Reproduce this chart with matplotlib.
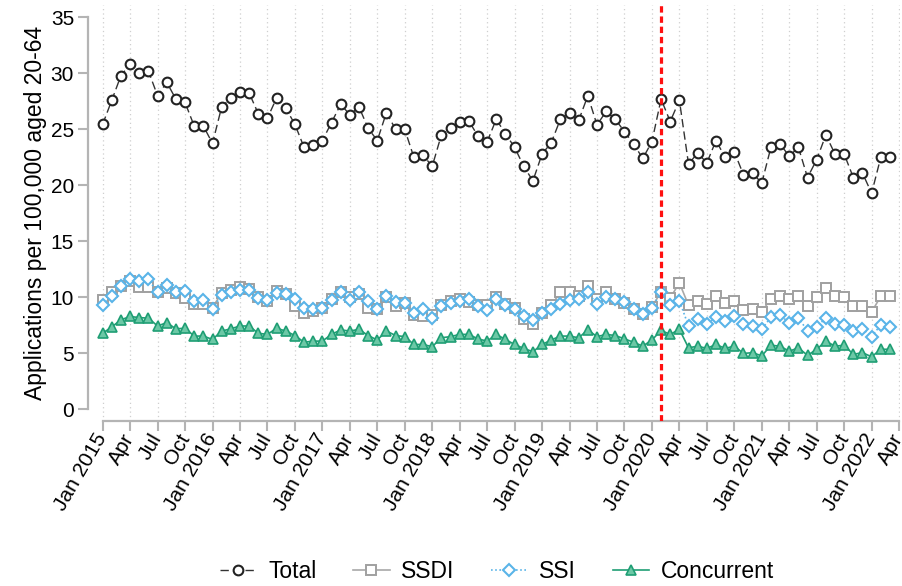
import numpy as np
import matplotlib
matplotlib.use("Agg")
import matplotlib.pyplot as plt

# monthly applications per 100,000 aged 20-64, Jan 2015 - Mar 2022
total = [25.45, 27.6, 29.8, 30.8, 30.0, 30.2, 28.0, 29.2, 27.7, 27.4, 25.3, 25.3,
         23.75, 27.0, 27.8, 28.3, 28.25, 26.4, 26.0, 27.8, 26.9, 25.45, 23.4, 23.6,
         24.0, 25.6, 27.25, 26.3, 27.0, 25.1, 24.0, 26.5, 25.0, 25.0, 22.5, 22.7,
         21.7, 24.5, 25.1, 25.65, 25.75, 24.4, 23.9, 25.9, 24.6, 23.4, 21.7, 20.4,
         22.8, 23.8, 25.9, 26.5, 25.8, 28.0, 25.4, 26.6, 25.9, 24.8, 23.7, 22.4,
         23.9, 27.7, 25.7, 27.6, 21.9, 22.9, 22.0, 24.0, 22.5, 23.0, 20.95, 21.1,
         20.2, 23.4, 23.7, 22.6, 23.4, 20.7, 22.3, 24.5, 22.8, 22.8, 20.7, 21.1,
         19.3, 22.5, 22.5]
ssdi = [9.8, 10.5, 11.0, 11.5, 10.9, 10.95, 10.45, 10.8, 10.4, 9.95, 9.4, 9.4,
        9.1, 10.4, 10.7, 10.9, 10.75, 10.05, 9.7, 10.6, 10.3, 9.25, 8.65, 8.8,
        9.1, 9.85, 10.45, 10.0, 10.3, 9.1, 9.0, 10.0, 9.2, 9.5, 8.4, 8.35,
        8.4, 9.3, 9.7, 9.9, 9.6, 9.3, 9.3, 10.0, 9.4, 9.1, 8.05, 7.6,
        8.65, 9.3, 10.45, 10.5, 10.15, 11.0, 9.85, 10.45, 9.85, 9.5, 8.95, 8.5,
        9.15, 10.5, 9.95, 11.3, 9.3, 9.7, 9.4, 10.15, 9.5, 9.65, 8.9, 9.0,
        8.7, 9.9, 10.15, 9.9, 10.1, 9.2, 10.0, 10.8, 10.1, 10.0, 9.2, 9.2,
        8.7, 10.1, 10.15]
ssi = [9.35, 10.15, 11.0, 11.6, 11.45, 11.6, 10.45, 11.15, 10.5, 10.6, 9.65, 9.8,
       8.95, 10.2, 10.5, 10.65, 10.65, 9.95, 9.8, 10.4, 10.3, 9.9, 9.1, 9.0,
       9.1, 9.8, 10.45, 9.8, 10.45, 9.7, 9.0, 10.15, 9.6, 9.5, 8.65, 8.95,
       8.2, 9.2, 9.5, 9.7, 9.9, 9.2, 8.85, 9.85, 9.3, 8.95, 8.3, 8.0,
       8.65, 8.95, 9.4, 9.75, 9.85, 10.45, 9.4, 10.0, 9.85, 9.55, 8.95, 8.5,
       9.05, 10.5, 9.3, 9.7, 7.45, 8.1, 7.6, 8.25, 7.9, 8.3, 7.6, 7.45,
       7.15, 8.25, 8.4, 7.75, 8.2, 7.0, 7.4, 8.15, 7.6, 7.55, 7.0, 7.2,
       6.5, 7.55, 7.4]
concurrent = [6.8, 7.37, 8.0, 8.3, 8.2, 8.15, 7.45, 7.75, 7.2, 7.25, 6.55, 6.55,
              6.25, 7.0, 7.2, 7.45, 7.45, 6.8, 6.7, 7.25, 7.0, 6.6, 6.0, 6.1,
              6.1, 6.7, 7.1, 7.0, 7.15, 6.6, 6.2, 7.0, 6.6, 6.5, 5.8, 5.8,
              5.6, 6.4, 6.5, 6.7, 6.7, 6.3, 6.1, 6.7, 6.25, 5.8, 5.45, 5.15,
              5.8, 6.2, 6.55, 6.55, 6.4, 7.1, 6.5, 6.7, 6.6, 6.3, 6.0, 5.65,
              6.2, 7.05, 6.7, 7.15, 5.5, 5.65, 5.45, 5.8, 5.45, 5.65, 5.0, 5.07,
              4.78, 5.73, 5.65, 5.2, 5.5, 4.83, 5.37, 6.1, 5.65, 5.73, 4.92, 5.07,
              4.7, 5.37, 5.37]

years = [2015, 2016, 2017, 2018, 2019, 2020, 2021, 2022]
quarter_months = ["Jan", "Apr", "Jul", "Oct"]
tick_labels = []
for yr in years:
    for m in quarter_months:
        tick_labels.append(f"{m} {yr}" if m == "Jan" else m)
tick_labels = tick_labels[:30]  # Jan 2015 ... Apr 2022
covid_month = 61  # Feb 2020

plt.rcParams['font.family'] = ['Liberation Sans', 'DejaVu Sans']

fig = plt.figure(figsize=(9.02, 5.86), dpi=100)
ax = fig.add_axes([88 / 902, 1 - 421 / 586, 812 / 902, 416 / 586])

x = np.arange(len(total))
axis_grey = "#b4b4b4"

for t in range(0, 88, 3):
    ax.axvline(t, color="#cfcfcf", lw=0.9, ls=(0, (1, 2.5)), zorder=0)

ax.plot(x, total, color="#333333", lw=1.0, ls=(0, (6, 3)), marker="o", ms=7,
        mfc="white", mec="#222222", mew=1.5, label="Total", zorder=5)
ax.plot(x, ssdi, color="#a8a8a8", lw=1.2, marker="s", ms=6.6,
        mfc="white", mec="#a0a0a0", mew=1.4, label="SSDI", zorder=3)
ax.plot(x, ssi, color="#5ab4e8", lw=1.2, ls=(0, (1, 1.5)), marker="D", ms=6.4,
        mfc="white", mec="#5ab4e8", mew=1.5, label="SSI", zorder=4)
ax.plot(x, concurrent, color="#1f9e74", lw=1.2, marker="^", ms=7,
        mfc="#6cc8a6", mec="#1f9e74", mew=1.2, label="Concurrent", zorder=4)

ax.axvline(covid_month, color="#ff1010", lw=2.3, ls=(0, (2, 1.2)), zorder=6)

ax.set_xlim(-1.6, 87.1)
ax.set_ylim(-1.03, 36.1)

ax.set_yticks(range(0, 36, 5))
ax.set_xticks(range(0, 88, 3))
ax.set_xticklabels(tick_labels, rotation=60, ha="right", va="center",
                   rotation_mode="anchor", fontsize=15)
ax.tick_params(axis="y", labelsize=15, length=7, width=1.5, color=axis_grey, pad=3)
ax.tick_params(axis="x", length=7, width=1.5, color=axis_grey, pad=3)

for side in ["top", "right"]:
    ax.spines[side].set_visible(False)
ax.spines["left"].set_bounds(0, 35)
ax.spines["bottom"].set_bounds(0, 87)
for side in ["left", "bottom"]:
    ax.spines[side].set_color(axis_grey)
    ax.spines[side].set_linewidth(1.6)

ax.set_ylabel("Applications per 100,000 aged 20-64", fontsize=16.5, labelpad=3)

fig.legend(loc="lower center", bbox_to_anchor=(0.551, -0.03), ncol=4, frameon=False,
           fontsize=16.5, handlelength=1.6, handletextpad=0.5, columnspacing=1.6)

fig.savefig("out.png", dpi=100)
